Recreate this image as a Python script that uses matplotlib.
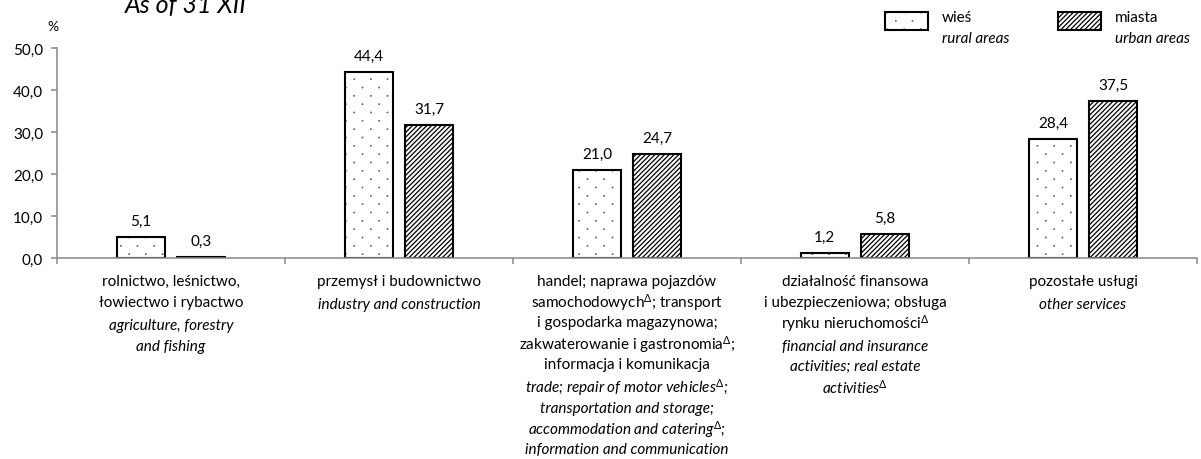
import matplotlib
matplotlib.use('Agg')
import matplotlib.pyplot as plt
import matplotlib.hatch as mhatch
from matplotlib.path import Path
from matplotlib.patches import Rectangle
from matplotlib.transforms import blended_transform_factory
import numpy as np
import warnings

warnings.filterwarnings('ignore')

plt.rcParams['font.family'] = ['Lato', 'DejaVu Sans']
plt.rcParams['mathtext.fontset'] = 'custom'
plt.rcParams['mathtext.rm'] = 'Lato'
plt.rcParams['mathtext.it'] = 'Lato:italic'
plt.rcParams['hatch.linewidth'] = 0.9


class SparseDots(mhatch.HatchPatternBase):
    """':' hatch - small staggered dots, 12 rows x 6 columns per inch."""
    radius = 0.002

    def __init__(self, hatch, density):
        n = hatch.count(':')
        self.rows = 12 * n
        self.cols = 6 * n
        circle = Path.unit_circle()
        self.verts = circle.vertices * self.radius
        self.vcodes = circle.codes
        self.num_vertices = self.rows * self.cols * len(self.verts)

    def set_vertices_and_codes(self, vertices, codes):
        nv = len(self.verts)
        k = 0
        for i in range(self.rows):
            y = (i + 0.5) / self.rows
            for j in range(self.cols):
                x = (j + 0.25 + 0.5 * (i % 2)) / self.cols
                vertices[k:k + nv] = self.verts + (x, y)
                codes[k:k + nv] = self.vcodes
                k += nv


mhatch._hatch_types.append(SparseDots)

FS = 11
D = r'$^{\Delta}$'
DOTS = ':'
STRIPES = '///////'

rural = [5.1, 44.4, 21.0, 1.2, 28.4]
urban = [0.3, 31.7, 24.7, 5.8, 37.5]

labels_pl = [
    ['rolnictwo, leśnictwo,', 'łowiectwo i rybactwo'],
    ['przemysł i budownictwo'],
    ['handel; naprawa pojazdów', 'samochodowych' + D + '; transport',
     'i gospodarka magazynowa;', 'zakwaterowanie i gastronomia' + D + ';',
     'informacja i komunikacja'],
    ['działalność finansowa', 'i ubezpieczeniowa; obsługa',
     'rynku nieruchomości' + D],
    ['pozostałe usługi'],
]
labels_en = [
    ['agriculture, forestry', 'and fishing'],
    ['industry and construction'],
    ['trade; repair of motor vehicles' + D + ';', 'transportation and storage;',
     'accommodation and catering' + D + ';', 'information and communication'],
    ['financial and insurance', 'activities; real estate', 'activities' + D],
    ['other services'],
]

W, H = 1201, 460
fig = plt.figure(figsize=(W / 100, H / 100), dpi=100)
ax = fig.add_axes([57 / W, (H - 259) / H, 1140 / W, 210 / H])

x = np.arange(len(rural))
bw = 0.21
off = 0.132
b1 = ax.bar(x - off, rural, bw, color='white', edgecolor='black', linewidth=1.5, hatch=DOTS)
b2 = ax.bar(x + off, urban, bw, color='white', edgecolor='black', linewidth=1.5, hatch=STRIPES)

for bars, vals in ((b1, rural), (b2, urban)):
    for b, v in zip(bars, vals):
        ax.annotate(f'{v:.1f}'.replace('.', ','), (b.get_x() + b.get_width() / 2, v),
                    xytext=(0, 6.5), textcoords='offset points', ha='center', va='bottom',
                    fontsize=FS)

ax.set_xlim(-0.5, len(rural) - 0.5)
ax.set_ylim(0, 50)
ax.set_yticks(np.arange(0, 51, 10))
ax.set_yticklabels([f'{t:.1f}'.replace('.', ',') for t in np.arange(0, 51, 10)], fontsize=FS)
ax.set_xticks(np.arange(-0.5, len(rural)))
ax.set_xticklabels([])
for s in ('top', 'right'):
    ax.spines[s].set_visible(False)
for s in ('left', 'bottom'):
    ax.spines[s].set_color('#888888')
    ax.spines[s].set_linewidth(1.1)
ax.tick_params(axis='both', color='#888888', width=1.1, length=4)
ax.tick_params(axis='y', pad=6)

# category labels, one text per line
tr = blended_transform_factory(ax.transData, fig.transFigure)
step = 20.7
for i in range(len(rural)):
    y = 282
    for line in labels_pl[i]:
        ax.text(i, 1 - y / H, line, transform=tr, ha='center', va='center', fontsize=FS)
        y += step
    y += 2.5
    for line in labels_en[i]:
        ax.text(i, 1 - y / H, line, transform=tr, ha='center', va='center', fontsize=FS,
                style='italic')
        y += step

fig.text(53 / W, 1 - 27 / H, '%', ha='center', va='center', fontsize=FS - 1)
fig.text(125 / W, 1 - 13 / H, 'As of 31 XII', ha='left', va='baseline', fontsize=18,
         style='italic')

# legend
for x0, hatch, pl, en in ((885, DOTS, 'wieś', 'rural areas'),
                          (1058, STRIPES, 'miasta', 'urban areas')):
    fig.patches.append(Rectangle((x0 / W, 1 - 31 / H), 43 / W, 18 / H, transform=fig.transFigure,
                                 facecolor='white', edgecolor='black', linewidth=1.5,
                                 hatch=hatch))
    fig.text((x0 + 57) / W, 1 - 18 / H, pl, ha='left', va='center', fontsize=FS)
    fig.text((x0 + 57) / W, 1 - 39 / H, en, ha='left', va='center', fontsize=FS,
             style='italic')

fig.savefig('out.png', dpi=100)
